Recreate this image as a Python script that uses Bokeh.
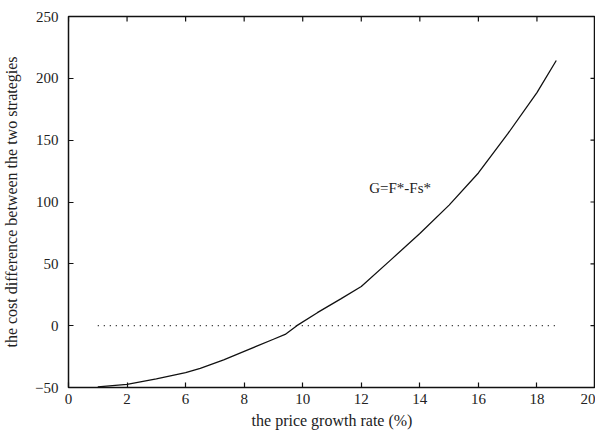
import math
from bokeh.plotting import figure
from bokeh.models import Range1d, FixedTicker, Label
from bokeh.embed import file_html
from bokeh.resources import INLINE

# data (x positions on the evenly spaced axis, 2 units per tick)
rate = [1.0, 2.0, 3.0, 4.0, 4.5, 5.3, 6.0, 7.0, 7.4, 7.8, 8.5, 9.3, 10.0, 11.0, 12.0, 13.0, 14.0, 15.0, 16.0, 16.66]
gap = [-49.5, -47.5, -43.0, -38.0, -34.5, -27.6, -20.8, -11.0, -7.1, 0.0, 10.5, 21.7, 31.7, 53.0, 74.5, 97.5, 123.5, 155.0, 188.5, 214.4]
zero_x = [1.0, 16.66]
zero_y = [0.0, 0.0]
x_ticks = [0, 2, 4, 6, 8, 10, 12, 14, 16, 18]
x_tick_labels = ["0", "2", "6", "8", "10", "12", "14", "16", "18", "20"]
y_ticks = [-50, 0, 50, 100, 150, 200, 250]
annot_text = "G=F*-Fs*"

FONT = "Liberation Serif"
TXT = "#222222"
X_MAX = 18
Y_MAX = 250

p = figure(width=595, height=431, output_backend="svg", toolbar_location=None,
           x_range=Range1d(0, X_MAX), y_range=Range1d(-50, Y_MAX),
           min_border_left=67, min_border_right=0, min_border_top=16, min_border_bottom=44)
p.grid.visible = False
p.outline_line_color = "#111111"
p.outline_line_width = 1.5

for ax, ticks in ((p.xaxis[0], x_ticks), (p.yaxis[0], y_ticks)):
    ax.ticker = FixedTicker(ticks=ticks)
    ax.major_tick_in = 5
    ax.major_tick_out = 0
    ax.minor_tick_line_color = None
    ax.axis_line_color = None
    ax.major_tick_line_color = "#111111"
    ax.major_tick_line_width = 1.2
    ax.major_label_text_font = FONT
    ax.major_label_text_color = TXT
    ax.major_label_text_font_size = "15px"
    ax.axis_label_text_font = FONT
    ax.axis_label_text_font_style = "normal"
    ax.axis_label_text_color = TXT
    ax.axis_label_text_font_size = "16px"

xa = p.xaxis[0]
xa.major_label_overrides = {t: l for t, l in zip(x_ticks, x_tick_labels)}
xa.major_label_standoff = 6
xa.axis_label = "the price growth rate (%)"
xa.axis_label_standoff = 5

ya = p.yaxis[0]
ya.major_label_standoff = 10
ya.axis_label = "the cost difference between the two strategies"
ya.axis_label_standoff = 12

# inward ticks on the top and right frame edges
p.ray(x=x_ticks, y=[Y_MAX] * len(x_ticks), length=5, length_units="screen",
      angle=-math.pi / 2, line_color="#111111", line_width=1.2)
p.ray(x=[X_MAX] * len(y_ticks), y=y_ticks, length=5, length_units="screen",
      angle=math.pi, line_color="#111111", line_width=1.2)

p.line(rate, gap, line_color="#111111", line_width=1.3)
p.line(zero_x, zero_y, line_color="#111111", line_width=1.2, line_dash="1 5")

p.add_layout(Label(x=10.27, y=111, text=annot_text, text_font=FONT, text_font_size="15px",
                   text_color=TXT, text_baseline="middle", text_align="left"))

open("out.html", "w").write(file_html(p, INLINE))
